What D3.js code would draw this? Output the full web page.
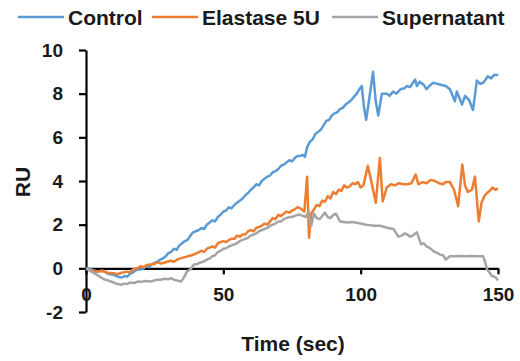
<!DOCTYPE html>
<html>
<head>
<meta charset="utf-8">
<script src="https://cdn.jsdelivr.net/npm/d3@7"></script>
<style>
  body { margin: 0; background: #fff; }
  svg { display: block; }
  text { font-family: "Liberation Sans", Arial, sans-serif; font-weight: bold; fill: #1a1a1a; }
</style>
</head>
<body>
<svg width="520" height="361"></svg>
<script>
// series as [time (sec), RU]
const control = [
  [0,0],[2,-0.05],[4,-0.15],[6,-0.1],[8,-0.25],[10,-0.3],[11,-0.35],[12,-0.4],[13,-0.42],[14,-0.35],
  [15,-0.38],[16,-0.25],[17,-0.2],[18,-0.1],[19,-0.05],[20,-0.05],[21,0.0],[22,0.1],[23,0.05],
  [24,0.2],[25,0.25],[26,0.3],[27,0.4],[28,0.45],[29,0.55],[30,0.7],[31,0.75],[32,0.9],[33,0.85],
  [34,1.05],[35,1.15],[36,1.25],[37,1.3],[38,1.5],[39,1.65],[40,1.7],[41,1.75],[42,1.85],[43,1.8],
  [44,2.0],[45,2.1],[46,2.2],[47,2.15],[48,2.35],[49,2.45],[50,2.6],[51,2.65],[52,2.8],[53,2.75],
  [54,2.9],[55,3.0],[56,3.1],[57,3.2],[58,3.35],[59,3.45],[60,3.6],[61,3.7],[62,3.85],[63,3.8],
  [64,4.0],[65,4.1],[66,4.2],[67,4.25],[68,4.4],[69,4.45],[70,4.55],[71,4.7],[72,4.75],[73,4.85],
  [74,4.95],[75,4.9],[76,5.05],[77,5.15],[78,5.15],[79,5.2],[79.7,5.1],[80.5,5.55],[81.5,5.8],
  [82.5,5.9],[83.5,6.15],[84.5,6.25],[85.5,6.35],[86.5,6.55],[87.5,6.75],[88.5,6.8],[89.5,7.0],
  [90.5,7.1],[91.5,7.15],[92.5,7.3],[93.5,7.35],[94.5,7.5],[95.5,7.6],[96.5,7.7],[97.5,7.85],
  [98.6,8.0],[99.5,8.2],[100.4,8.35],[101.2,7.4],[102,6.8],[103,7.65],[104.5,9.0],[105.5,7.65],
  [106.4,7.0],[107.7,8.0],[109.5,8.0],[110.5,7.9],[111.8,8.1],[113,8.0],[114.5,8.2],[116,8.25],
  [116.8,8.35],[118,8.3],[119.8,8.65],[120.5,8.35],[121.5,8.55],[123,8.4],[124,8.2],[125,8.35],
  [126.4,8.5],[128,8.45],[129.5,8.4],[131,8.35],[132.5,8.2],[134.3,7.65],[135,8.1],[136.9,7.5],
  [138,7.9],[139.5,7.7],[140.9,7.25],[142.3,8.6],[143.5,8.45],[144.6,8.5],[145.5,8.65],[146.3,8.8],
  [147.5,8.7],[148.5,8.85],[149.6,8.85],[150,8.9]
];
const elastase = [
  [0,0],[2,-0.1],[4,-0.15],[6,-0.12],[8,-0.2],[10,-0.22],[11.4,-0.27],[13,-0.2],[15,-0.15],
  [16,-0.2],[17,-0.05],[18.5,0.0],[20,0.1],[21,0.05],[22,0.15],[23.5,0.18],[25,0.2],[26,0.28],
  [27.5,0.22],[29.5,0.3],[31,0.35],[32,0.3],[33.5,0.42],[35.7,0.5],[37,0.55],[38.5,0.6],[40.4,0.7],
  [42,0.8],[43,0.75],[44,0.9],[45,0.95],[46,1.0],[47,0.95],[48,1.15],[49,1.2],[50,1.25],[51,1.2],
  [52,1.3],[53,1.35],[54,1.35],[55,1.5],[56,1.45],[57,1.55],[58,1.55],[59,1.7],[60,1.75],[61,1.7],
  [62,1.85],[63,1.9],[64,1.95],[65,2.05],[66,2.0],[67,2.15],[68,2.3],[69,2.25],[70,2.45],[71,2.4],
  [72,2.5],[73,2.6],[74,2.55],[75,2.65],[76,2.7],[77,2.8],[78,2.75],[79.5,2.6],[80.5,4.2],
  [81.2,1.4],[82,2.5],[83,2.7],[84,2.9],[85,2.85],[86,3.1],[87,3.05],[88,3.3],[89,3.2],[90,3.5],
  [91,3.4],[92,3.6],[93,3.55],[94,3.8],[95,3.7],[96,3.75],[97,3.9],[98,3.85],[99,3.95],[100,3.7],
  [101,3.8],[102.6,4.7],[103.5,4.2],[105.5,3.0],[107,5.05],[108,3.07],[109.5,3.7],[111,3.85],
  [112.5,3.8],[114,3.9],[115.5,3.85],[117,3.85],[118.5,3.9],[120,4.3],[121,3.85],[122.5,3.95],
  [124,3.9],[125.5,4.05],[127,4.0],[128.5,3.9],[130,3.85],[131,3.95],[132.5,3.95],[134,3.6],
  [135.5,2.85],[137,4.75],[138,3.8],[139,3.5],[140.5,3.6],[141.6,4.2],[143,2.15],[144,3.0],
  [145,3.3],[146,3.45],[147,3.55],[148,3.7],[149,3.6],[150,3.65]
];
const supernatant = [
  [0,0],[2,-0.15],[4,-0.3],[6.5,-0.5],[8,-0.55],[10,-0.65],[11,-0.7],[12.8,-0.75],[14,-0.7],
  [15,-0.72],[16,-0.65],[17.5,-0.67],[19,-0.6],[20,-0.62],[21.5,-0.58],[23.5,-0.6],[25,-0.55],
  [26,-0.52],[27.3,-0.52],[28.5,-0.48],[30,-0.5],[31,-0.45],[32,-0.52],[33,-0.55],[34.6,-0.6],
  [35.5,-0.45],[36.8,-0.14],[38,-0.05],[39.3,0.18],[40.5,0.2],[42,0.28],[43,0.32],[44,0.4],
  [45,0.45],[46,0.55],[47,0.6],[48,0.75],[49,0.8],[50,0.9],[51,0.92],[52,1.0],[53,1.05],[54,1.1],
  [55,1.15],[56,1.25],[57,1.3],[58,1.35],[59,1.4],[60,1.5],[61,1.55],[62,1.6],[63,1.7],[64,1.75],
  [65,1.8],[66,1.85],[67,1.95],[68,2.0],[69,2.05],[70,2.15],[71,2.15],[72,2.25],[73,2.3],[74,2.35],
  [75,2.35],[76,2.4],[77,2.45],[78,2.45],[79,2.4],[80,2.35],[81,2.6],[82,1.95],[83,2.5],[84,2.3],
  [85,2.25],[86,2.4],[87,2.55],[88,2.35],[89,2.3],[90,2.45],[91,2.5],[92.5,2.15],[95,2.1],
  [97,2.12],[100,2.05],[102,2.0],[105,1.95],[107,1.95],[110,1.85],[112,1.8],[113.7,1.45],
  [115,1.5],[116,1.6],[117,1.55],[118,1.45],[119,1.5],[120.5,1.65],[121.3,1.35],[122,1.1],
  [123,1.15],[124,1.0],[125,0.95],[126.4,0.8],[127,0.75],[128,0.7],[129,0.62],[130,0.6],
  [131,0.4],[132.5,0.55],[134,0.55],[136,0.57],[138,0.55],[140,0.57],[142,0.55],[144.6,0.55],
  [145.3,0.3],[146,-0.05],[147,-0.2],[147.8,-0.35],[149,-0.4],[150,-0.55]
];

const seriesNames = ['Control', 'Elastase 5U', 'Supernatant'];
const seriesColors = ['#5B9BD5', '#ED7D31', '#A5A5A5'];
const xTicks = [0, 50, 100, 150];
const yTicks = [-2, 0, 2, 4, 6, 8, 10];

const svg = d3.select('svg');

const x = d3.scaleLinear().domain([0, 150]).range([86, 498]);
const y = d3.scaleLinear().domain([-2, 10]).range([312, 50]);

// axes
const yAxis = svg.append('g')
  .attr('transform', 'translate(86,0)')
  .call(d3.axisLeft(y).tickValues(yTicks).tickFormat(d => String(d))
    .tickSize(7).tickSizeOuter(0).tickPadding(16));

const xAxis = svg.append('g')
  .attr('transform', 'translate(0,' + y(0) + ')')
  .call(d3.axisBottom(x).tickValues(xTicks).tickFormat(d => String(d))
    .tickSize(6).tickSizeOuter(0).tickPadding(13));

[yAxis, xAxis].forEach(g => {
  g.select('.domain').attr('stroke', '#000').attr('stroke-width', 2.2);
  g.selectAll('.tick line').attr('stroke', '#000').attr('stroke-width', 2.2);
  g.selectAll('.tick text')
    .attr('font-size', 19)
    .attr('font-family', '"Liberation Sans", Arial, sans-serif')
    .attr('font-weight', 'bold')
    .attr('fill', '#1a1a1a');
});

// lines
const line = d3.line().x(d => x(d[0])).y(d => y(d[1]));
[control, elastase, supernatant].forEach((data, i) => {
  svg.append('path')
    .datum(data)
    .attr('fill', 'none')
    .attr('stroke', seriesColors[i])
    .attr('stroke-width', 2.5)
    .attr('stroke-linejoin', 'round')
    .attr('d', line);
});

// axis titles
svg.append('text')
  .attr('x', 293).attr('y', 351)
  .attr('text-anchor', 'middle')
  .attr('font-size', 21)
  .text('Time (sec)');

svg.append('text')
  .attr('transform', 'translate(30,182) rotate(-90)')
  .attr('text-anchor', 'middle')
  .attr('font-size', 21)
  .text('RU');

// legend
const legendX = [18, 152, 332];
const legend = svg.append('g');
seriesNames.forEach((name, i) => {
  legend.append('line')
    .attr('x1', legendX[i]).attr('x2', legendX[i] + 46)
    .attr('y1', 17).attr('y2', 17)
    .attr('stroke', seriesColors[i])
    .attr('stroke-width', 2.5);
  legend.append('text')
    .attr('x', legendX[i] + 50).attr('y', 24.5)
    .attr('font-size', 21)
    .text(name);
});
</script>
</body>
</html>
